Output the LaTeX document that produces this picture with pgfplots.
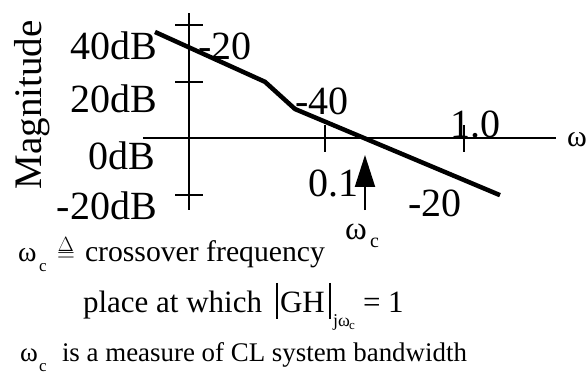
\documentclass[border=0pt]{standalone}
\usepackage{pgfplots}
\pgfplotsset{compat=1.18}
\usepackage{fontspec}
\setmainfont{Liberation Serif}
\usetikzlibrary{arrows.meta}
\newcommand{\fs}[1]{\fontsize{#1bp}{#1bp}\selectfont}
\begin{document}
\begin{tikzpicture}
\useasboundingbox (0,0) rectangle (587bp,378bp);
\begin{axis}[
  at={(0,0)}, anchor=south west,
  scale only axis, width=587bp, height=378bp,
  xmode=log, xmin=4.591e-4, xmax=7.672,
  ymin=-84.53, ymax=48.88,
  hide axis, clip=false,
]
% axes
\addplot[line width=2bp, black] coordinates {(0.01051,44.29) (0.01051,-25.24)};
\addplot[line width=2bp, black] coordinates {(0.004905,0) (4.591,0)};
% y ticks (40, 20, -20 dB)
\addplot[line width=2bp, black] coordinates {(0.008337,40) (0.013259,40)};
\addplot[line width=2bp, black] coordinates {(0.008337,20) (0.013259,20)};
\addplot[line width=2bp, black] coordinates {(0.008337,-20) (0.013259,-20)};
% x ticks (0.1, 1.0)
\addplot[line width=2bp, black] coordinates {(0.1,4.76) (0.1,-4.76)};
\addplot[line width=2bp, black] coordinates {(1.0,4.76) (1.0,-4.76)};
% asymptotic magnitude
\addplot[line width=4.5bp, black] coordinates {(0.005984,37.6) (0.03701,20) (0.06083,10.4) (1.8155,-20)};
% crossover arrow
\draw[line width=2bp, -{Triangle[length=32bp,width=20bp]}] (axis cs:0.194,-25.24) -- (axis cs:0.194,-5.82);
\end{axis}
\begin{scope}[x=1bp,y=-1bp,yshift=378bp,every node/.style={inner sep=0pt,outer sep=0pt}]
\node[rotate=90, font=\fs{39}] at (32,105) {Magnitude};
\node[anchor=base east, font=\fs{40}] at (157,60) {40dB};
\node[anchor=base east, font=\fs{40}] at (157,113) {20dB};
\node[anchor=base east, font=\fs{40}] at (155,170) {0dB};
\node[anchor=base east, font=\fs{40}] at (157,220) {-20dB};
\node[anchor=base west, font=\fs{40}] at (198,60) {-20};
\node[anchor=base west, font=\fs{40}] at (295,115) {-40};
\node[anchor=base west, font=\fs{40}] at (450,138) {1.0};
\node[anchor=base west, font=\fs{40}] at (308,197) {0.1};
\node[anchor=base west, font=\fs{40}] at (408,217) {-20};
\node[anchor=base west, font=\fs{30}] at (567,147) {ω};
\node[anchor=base west, font=\fs{33}] at (345,240) {ω};
\node[anchor=base west, font=\fs{20}] at (370,248) {c};
% line 1
\node[anchor=base west, font=\fs{28}] at (18,262) {ω};
\node[anchor=base west, font=\fs{17}] at (39,272) {c};
\node[anchor=base west, font=\fs{32}] at (57,262) {$\stackrel{\scriptstyle\Delta}{=}$};
\node[anchor=base west, font=\fs{29.7}] at (85,262) {crossover frequency};
% line 2
\node[anchor=base west, font=\fs{31}] at (83,313) {place at which};
\draw[line width=1.2bp] (277,283) -- (277,319);
\draw[line width=1.2bp] (330,283) -- (330,319);
\node[anchor=base west, font=\fs{31}] at (280,313) {GH};
\node[anchor=base west, font=\fs{18}] at (333,327) {jω};
\node[anchor=base west, font=\fs{13}] at (349,330) {c};
\node[anchor=base west, font=\fs{31}] at (363,313) {= 1};
% line 3
\node[anchor=base west, font=\fs{27}] at (20,362) {ω};
\node[anchor=base west, font=\fs{17}] at (39,372) {c};
\node[anchor=base west, font=\fs{26.9}] at (62,362) {is a measure of CL system bandwidth};
\end{scope}
\end{tikzpicture}
\end{document}
